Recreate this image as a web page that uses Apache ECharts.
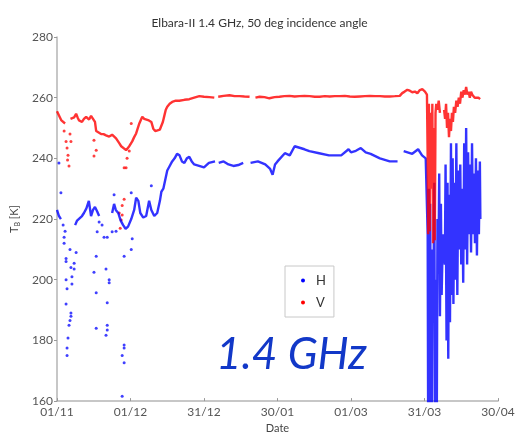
<!DOCTYPE html>
<html><head><meta charset="utf-8">
<script src="https://cdn.jsdelivr.net/npm/echarts@6/dist/echarts.min.js"></script>
<style>html,body{margin:0;padding:0;background:#fff}#c{width:519px;height:439px}</style>
</head><body><div id="c"></div>
<script>
// x = days since 01/11
const tickLabels = ['01/11','01/12','31/12','30/01','01/03','31/03','30/04'];

// H polarisation, main trace (null = gap)
const hDays = [0,0.8,1.6,2.2, 7.4,8.2,9,10.2,11,12,13,13.9,14.7,15.5,16.4,17.2,17.8, 22.5,23.3,24,25,26,27,28,29,30.3,31.5,32.3,33.2,34,35.2,36.4,37.6,38.5,39.7,40.9,42,42.6,43.4,
 45,46,47,48,49,50,51,52,53,54,55,56,58,60,62,64.5,65.2, 66,68,70,72,74,76,77.6, 79,82,85,87,88,89,90,93,95,97,99,101,103,107,111,116,119,120,122,124,126,128,131.8,135.8,139,140.4,
 141.5,145,147.4,149,150.5,
 151.0,151.3,151.5,151.8,152.0,152.3,152.6,153.0,153.3,153.6,154.0,154.3,154.7,155.0,155.3,155.7,156.0,156.3,156.7,157.0,157.5,158.3,158.6,159.0,159.4,159.7,160.0,160.4,160.8,161.1,161.5,161.8,162.2,162.6,163.0,163.4,163.8,164.2,164.6,165.0,165.4,165.8,166.2,166.6,167.0,167.4,167.8,168.2,168.6,169.0,169.4,169.8,170.2,170.6,171.0,171.4,171.8,172.2,172.6,172.8];
const hVals = [223,221,220,null, 218,219.5,220,221,222,223.5,226,221,223,224,222.5,221,null, 222,225,223,222,219.5,218,216.8,217.5,220,223,227,226,222,220.5,221,226,223,221,222,226,229,230,
 236,237.5,239,240,241.5,241,239,238.5,240,240.5,239,238,237.5,237,238.5,239,null, 238.5,239,238,237.5,237.8,238.5,null, 238.5,239,238,236.5,234.6,238,239,241.7,241,244,243.5,243,242.4,241.7,241,241,243,242,242.5,243.4,242,241.5,240,239,239,null,
 242.4,241.5,243,241,240,
 240,215,150,230,150,225,180,150,210,190,232,150,200,150,220,205,235,188,225,195,215,205,238,180,232,174,228,186,245,195,240,192,232,200,245,195,236,210,238,205,230,199,245,210,250,205,242,215,238,209,245,215,235,212,240,208,236,215,239,220];

// V polarisation, main trace
const vDays = [0,0.6,1.2,1.8,2.5,3.3,3.8, 5.5,6.2,7,7.8,8.4,9,10.2,11,11.9,13.1,13.9,14.7,15.5,16,17,18,19,20,21.3,22.5,23.3,24.1,25.4,26.2,27,28.2,29.5,30.7,31.5,32.3,33.6,34.8,35.6,36.4,37.5,38.5,39.3,40.1,40.9,42,42.6,43.2,43.8,44.4,45,46,47,48.5,49.9,52,54,56,58.1,60,62.2,64.2,65,
 65.8,68,70.4,72.5,74.5,76.5,78.6,80.4, 81,82.7,84.7,86.7,88.8,90.8,92.8,94.9,97,99,101,103.1,105.2,107.2,109.3,111.3,113.4,115.4,117.5,119.5,121.5,123.6,125.7,127.7,129.8,131.8,133.8,135.8,137.9,139.9,140.9,141.9,143,144,145,146.1,147.1,148.1,149.1,150.2,
 150.7,151.0,151.3,151.5,151.8,152.1,152.4,152.8,153.2,153.5,153.8,154.2,154.5,154.8,155.3,155.8,156.3,156.8, 158.0,158.4,158.8,159.2,159.6,160.0,160.4,160.8,161.2,161.6,162.0,162.5,163.0,163.5,164,164.5,165,165.5,166,166.5,167,167.5,168,168.5,169,169.5,170,170.5,171,172,172.7];
const vVals = [255.5,255,253.5,252.5,252,251.5,null, 253,253.5,253.5,254.7,253.5,252.5,252,253,253.7,252.8,254,253.5,252,249,248.5,248,248,247.6,247.2,247.8,248.2,246.6,245,244,243.5,242.7,244,245.6,247,248.2,251.5,253.7,253,252.5,252.5,252,249.8,249,249,249.5,250,252,254,256,257,258,258.6,259,259,259.3,259.5,260,260.5,260.3,260.2,260,null,
 260.3,260.6,260.8,260.5,260.5,260.4,260.3,null, 260,260.3,260.2,259.8,260.2,260.3,260.5,260.6,260.4,260.5,260.6,260.5,260.3,260.3,260.5,260.4,260.5,260.5,260.6,260.4,260.3,260.4,260.5,260.6,260.5,260.5,260.4,260.4,260.5,260.6,261.5,262,262.6,262.3,261.8,262,261.5,262.5,262.8,262,
 262,261,240,215,258,216,255,230,258,212,250,213,255,258,256,259,255,null, 256,253,258,250,255,247,253,249,255,252,257,255,259,257,260,258,262,260,262.5,261,263.5,261,262,260,262,261,261.5,260,260.5,260,259.5];

// scattered isolated samples
const hOutDays = [0.8,1.6,2.5,2.9,2.9,3.3,3.7,3.7,3.7,3.7,4.1,4.1,4.1,4.5,4.9,5.3,5.3,5.7,5.7,5.7,6.1,6.1,7,7,7.8,15.1,16,16,16,16.4,17.2,18.4,19.2,20,20,20.5,20.5,20.5,20.5,21.3,21.3,22.5,23.3,24.1,26.6,26.6,27.4,27.4,27.4,27.4,30.3,30.3,30.7,38.5];
const hOutVals = [238.5,228.7,218,214,212,216,207,206,200,192,197,177.5,175,180.8,185,186.6,210,189,188,204,201,198.6,205.4,203.5,209,202.5,195.7,184,207.7,215.8,219,218,214,203.5,181.7,192.4,185,183.4,214,200,199,215.8,228,216,175,161.6,178.5,177.5,172.6,207.7,228.7,210,213.5,231];
const vOutDays = [2.9,3.7,4.1,4.5,4.9,5.3,5.7,4.3,15.1,16,15.1,25.4,25.8,26.2,26.6,26.6,27.4,27.4,28.2,28.6,29.5,30.3];
const vOutVals = [249,245.6,243.4,241,237.5,248,245.6,239.5,246,242.7,240.8,222,217,219.7,221.3,224.5,226.5,236.9,236.9,240,242.4,251.5];

const pair = (d, v) => d.map((x, i) => [x, v[i] === null ? '-' : v[i]]);
const RED = '#ff0000', BLUE = '#0000ff';
const FONT = 'Lato';

const chart = echarts.init(document.getElementById('c'), null, {renderer: 'canvas'});
chart.setOption({
  animation: false,
  backgroundColor: '#fff',
  title: {
    text: 'Elbara-II 1.4 GHz, 50 deg incidence angle',
    left: 'center', top: 12,
    textStyle: {fontFamily: FONT, fontSize: 12, fontWeight: 'normal', color: '#333'}
  },
  grid: {left: 57, right: 21, top: 37, bottom: 32},
  legend: {
    data: [{name: 'H', icon: 'circle'}, {name: 'V', icon: 'circle'}],
    orient: 'vertical', left: 285, top: 266,
    itemWidth: 4, itemHeight: 4, itemGap: 9,
    padding: [8, 8, 8, 16],
    borderColor: '#c8c8c8', borderWidth: 1,
    textStyle: {fontFamily: FONT, fontSize: 13, color: '#333', padding: [0, 0, 0, 6]}
  },
  xAxis: {
    type: 'value', min: 0, max: 180, interval: 30,
    name: 'Date', nameLocation: 'middle', nameGap: 20,
    nameTextStyle: {fontFamily: FONT, fontSize: 11, color: '#444'},
    axisLine: {lineStyle: {color: '#b5b5b5', width: 1.5}},
    axisTick: {inside: true, length: 3, lineStyle: {color: '#999'}},
    axisLabel: {fontFamily: FONT, fontSize: 12, color: '#555', margin: 5,
      formatter: v => tickLabels[Math.round(v / 30)] || ''},
    splitLine: {show: false}
  },
  yAxis: {
    type: 'value', min: 160, max: 280, interval: 20,
    name: 'T{s|B} [K]', nameLocation: 'middle', nameGap: 35, nameRotate: 90,
    nameTextStyle: {fontFamily: FONT, fontSize: 11, color: '#444',
      rich: {s: {fontFamily: FONT, fontSize: 7, color: '#444', verticalAlign: 'bottom', padding: [6, 0, 0, 0]}}},
    axisLine: {show: true, lineStyle: {color: '#b5b5b5', width: 1.5}},
    axisTick: {show: true, inside: false, length: 3, lineStyle: {color: '#999'}},
    axisLabel: {fontFamily: FONT, fontSize: 12, color: '#555', margin: 4},
    splitLine: {show: false}
  },
  series: [
    {name: 'H', type: 'line', data: pair(hDays, hVals), showSymbol: false, connectNulls: false,
     clip: true, itemStyle: {color: BLUE}, lineStyle: {color: BLUE, width: 2.4, opacity: 0.8}},
    {name: 'H', type: 'scatter', data: pair(hOutDays, hOutVals), symbolSize: 3,
     itemStyle: {color: BLUE, opacity: 0.75}},
    {name: 'V', type: 'line', data: pair(vDays, vVals), showSymbol: false, connectNulls: false,
     clip: true, itemStyle: {color: RED}, lineStyle: {color: RED, width: 2.4, opacity: 0.8}},
    {name: 'V', type: 'scatter', data: pair(vOutDays, vOutVals), symbolSize: 3,
     itemStyle: {color: RED, opacity: 0.75}}
  ],
  graphic: [{
    type: 'text', left: 216, top: 333,
    style: {text: '1.4 GHz', fontFamily: FONT, fontStyle: 'italic', fontSize: 44, fill: '#1238c8'}
  }]
});
</script></body></html>
